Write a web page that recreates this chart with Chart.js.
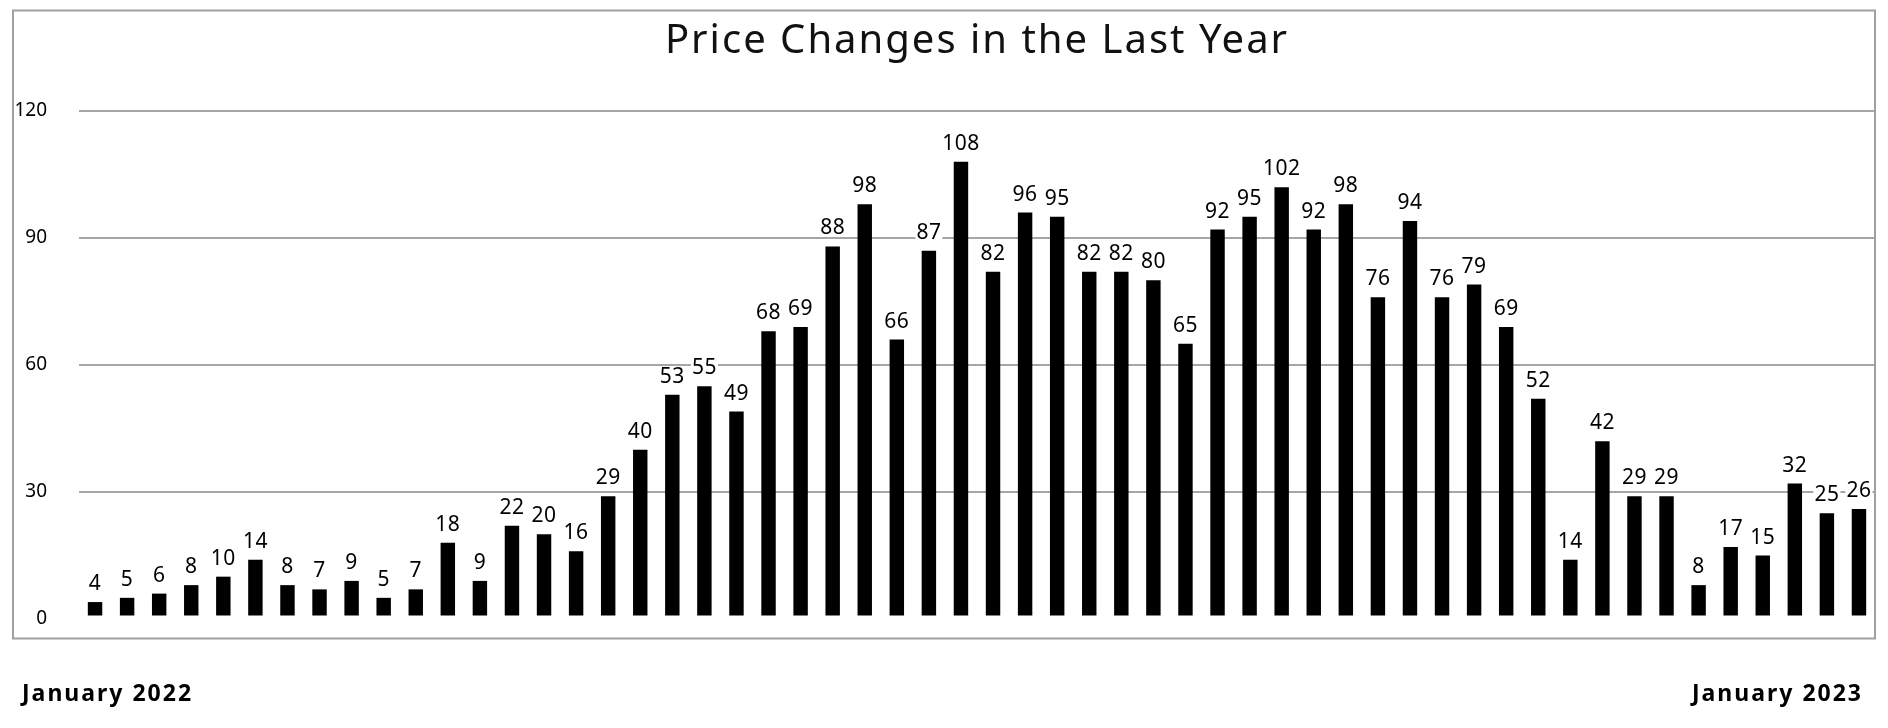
<!DOCTYPE html>
<html>
<head>
<meta charset="utf-8">
<script src="https://cdn.jsdelivr.net/npm/chart.js@4"></script>
<style>
html,body{margin:0;padding:0;background:#fff;}
#wrap{width:1888px;height:728px;}
</style>
</head>
<body>
<div id="wrap"><canvas id="c" width="1888" height="728"></canvas></div>
<script>
// ---- data ----
const chartTitle = 'Price Changes in the Last Year';
const edgeLabels = ['January 2022', 'January 2023'];
const categories = ['1','2','3','4','5','6','7','8','9','10','11','12','13','14','15','16','17','18','19','20',
  '21','22','23','24','25','26','27','28','29','30','31','32','33','34','35','36','37','38','39','40',
  '41','42','43','44','45','46','47','48','49','50','51','52','53','54','55','56'];
const priceChanges = [4,5,6,8,10,14,8,7,9,5,7,18,9,22,20,16,29,40,53,55,49,68,69,88,98,66,87,108,82,96,
  95,82,82,80,65,92,95,102,92,98,76,94,76,79,69,52,14,42,29,29,8,17,15,32,25,26];
const yTicks = [0, 30, 60, 90, 120];

const FONT = '"Noto Sans", "DejaVu Sans", sans-serif';

const framePlugin = {
  id: 'frame',
  afterDraw(chart) {
    const ctx = chart.ctx;
    ctx.save();
    ctx.strokeStyle = '#a0a0a0';
    ctx.lineWidth = 2;
    ctx.strokeRect(13, 10.5, chart.chartArea.right - 13, 638.5 - 10.5);
    ctx.restore();
  }
};

const titlePlugin = {
  id: 'customTitle',
  afterDraw(chart) {
    const ctx = chart.ctx;
    const a = chart.chartArea;
    ctx.save();
    ctx.font = '40px ' + FONT;
    ctx.letterSpacing = '2px';
    ctx.fillStyle = '#111';
    ctx.textAlign = 'center';
    ctx.textBaseline = 'middle';
    ctx.fillText(chartTitle, (a.left + a.right) / 2, 42);
    ctx.restore();
  }
};

const baseMaskPlugin = {
  id: 'baseMask',
  afterDatasetsDraw(chart) {
    const ctx = chart.ctx;
    const a = chart.chartArea;
    const y0 = chart.scales.y.getPixelForValue(0);
    ctx.save();
    ctx.fillStyle = '#fff';
    ctx.fillRect(a.left, y0 - 3.5, a.right - a.left, 4);
    ctx.restore();
  }
};

const valueLabelPlugin = {
  id: 'valueLabels',
  afterDatasetsDraw(chart) {
    const ctx = chart.ctx;
    const meta = chart.getDatasetMeta(0);
    const data = chart.data.datasets[0].data;
    ctx.save();
    ctx.font = '21px ' + FONT;
    ctx.letterSpacing = '0.5px';
    ctx.textAlign = 'center';
    ctx.textBaseline = 'alphabetic';
    meta.data.forEach((bar, i) => {
      const txt = String(data[i]);
      const w = ctx.measureText(txt).width;
      const by = bar.y - 12;
      ctx.fillStyle = '#fff';
      ctx.fillRect(bar.x - w / 2 - 1, by - 16, w + 2, 18);
      ctx.fillStyle = '#000';
      ctx.fillText(txt, bar.x, by);
    });
    ctx.restore();
  }
};

const edgeLabelPlugin = {
  id: 'edgeLabels',
  afterDraw(chart) {
    const ctx = chart.ctx;
    ctx.save();
    ctx.font = 'bold 23px ' + FONT;
    ctx.letterSpacing = '2px';
    ctx.fillStyle = '#000';
    ctx.textBaseline = 'middle';
    ctx.textAlign = 'left';
    ctx.fillText(edgeLabels[0], 22, 694);
    ctx.textAlign = 'right';
    ctx.fillText(edgeLabels[1], 1863, 694);
    ctx.restore();
  }
};

new Chart(document.getElementById('c'), {
  type: 'bar',
  data: {
    labels: categories,
    datasets: [{
      data: priceChanges,
      backgroundColor: '#000',
      borderWidth: 0,
      barPercentage: 0.45,
      categoryPercentage: 1.0
    }]
  },
  options: {
    responsive: false,
    animation: false,
    devicePixelRatio: 1,
    layout: { padding: { left: 0, right: 13, top: 111, bottom: 109 } },
    plugins: {
      legend: { display: false },
      title: { display: false },
      tooltip: { enabled: false }
    },
    scales: {
      x: { display: false },
      y: {
        min: yTicks[0],
        max: yTicks[yTicks.length - 1],
        afterBuildTicks(scale) { scale.ticks = yTicks.map(v => ({ value: v })); },
        afterFit(scale) { scale.width = 79; },
        border: { display: false },
        grid: {
          drawTicks: false,
          lineWidth: 2,
          color: (c) => (c.tick && c.tick.value === 0) ? 'rgba(0,0,0,0)' : '#a6a6a6'
        },
        ticks: {
          padding: 32,
          color: '#000',
          font: { family: FONT, size: 19 }
        }
      }
    }
  },
  plugins: [framePlugin, titlePlugin, baseMaskPlugin, valueLabelPlugin, edgeLabelPlugin]
});
</script>
</body>
</html>
